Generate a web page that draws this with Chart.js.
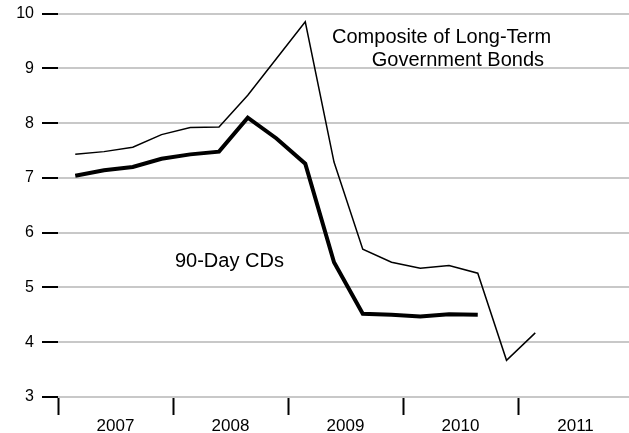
<!DOCTYPE html>
<html>
<head>
<meta charset="utf-8">
<script src="https://cdn.jsdelivr.net/npm/chart.js@4/dist/chart.umd.min.js"></script>
<style>
    body { margin: 0; background: #fff; }
    canvas { display: block; }
</style>
</head>
<body>
<canvas id="rates" width="629" height="433"></canvas>
<script>
// quarterly observations, x in fractional years
const quarterX = [2007.15, 2007.4, 2007.65, 2007.9, 2008.15, 2008.4, 2008.65, 2008.9,
    2009.15, 2009.4, 2009.65, 2009.9, 2010.15, 2010.4, 2010.65, 2010.9, 2011.15];
const bondRates = [7.43, 7.48, 7.56, 7.79, 7.92, 7.93, 8.51, 9.18,
    9.85, 7.29, 5.70, 5.46, 5.35, 5.40, 5.26, 3.67, 4.17];
const cdRates = [7.04, 7.14, 7.20, 7.35, 7.43, 7.48, 8.10, 7.72,
    7.26, 5.46, 4.52, 4.50, 4.47, 4.51, 4.50];
const yearTicks = [2007, 2008, 2009, 2010, 2011];
const yearLabels = ["2007", "2008", "2009", "2010", "2011"];
const yTicks = [3, 4, 5, 6, 7, 8, 9, 10];

// text labels placed in data coordinates
const notes = [
    { text: "Composite of Long-Term", x: 2009.383, y: 9.46 },
    { text: "Government Bonds", x: 2009.728, y: 9.05 },
    { text: "90-Day CDs", x: 2008.017, y: 5.37 }
];

const FONT = "'Liberation Sans', Arial, Helvetica, sans-serif";

function toPoints(values) {
    return values.map((v, i) => ({ x: quarterX[i], y: v }));
}

const notePlugin = {
    id: "notes",
    afterDatasetsDraw(chart) {
        const ctx = chart.ctx;
        const xs = chart.scales.x, ys = chart.scales.y;
        ctx.save();
        ctx.font = "20px " + FONT;
        ctx.fillStyle = "#000";
        ctx.textAlign = "left";
        ctx.textBaseline = "alphabetic";
        notes.forEach(n => {
            ctx.fillText(n.text, xs.getPixelForValue(n.x), ys.getPixelForValue(n.y));
        });
        ctx.restore();
    }
};

new Chart(document.getElementById("rates"), {
    type: "line",
    data: {
        datasets: [
            {
                label: "Composite of Long-Term Government Bonds",
                data: toPoints(bondRates),
                borderColor: "#000",
                borderWidth: 1.5,
                pointRadius: 0,
                tension: 0
            },
            {
                label: "90-Day CDs",
                data: toPoints(cdRates),
                borderColor: "#000",
                borderWidth: 4,
                pointRadius: 0,
                tension: 0
            }
        ]
    },
    options: {
        responsive: false,
        animation: false,
        layout: { padding: { top: 13.6, right: 0, left: 0, bottom: 0 } },
        plugins: { legend: { display: false }, tooltip: { enabled: false } },
        scales: {
            x: {
                type: "linear",
                min: 2007,
                max: 2011.965,
                afterBuildTicks(scale) {
                    const t = [];
                    yearTicks.forEach(y => { t.push({ value: y }); t.push({ value: y + 0.5 }); });
                    scale.ticks = t;
                },
                afterFit(scale) { scale.height = 36; scale.paddingLeft = 0; scale.paddingRight = 0; },
                border: { display: false },
                grid: {
                    drawOnChartArea: false,
                    tickLength: 18,
                    tickWidth: 2,
                    tickColor: ctx => (ctx.tick && Number.isInteger(ctx.tick.value)) ? "#000" : "rgba(0,0,0,0)"
                },
                ticks: {
                    autoSkip: false,
                    maxRotation: 0,
                    padding: 1,
                    color: "#000",
                    font: { family: FONT, size: 17 },
                    callback: v => {
                        const i = yearTicks.indexOf(v - 0.5);
                        return i >= 0 ? yearLabels[i] : "";
                    }
                }
            },
            y: {
                min: 3,
                max: 10,
                afterBuildTicks(scale) { scale.ticks = yTicks.map(v => ({ value: v })); },
                afterFit(scale) { scale.width = 58; scale.paddingTop = 0; scale.paddingBottom = 0; },
                border: { display: false },
                grid: {
                    color: "#c8c8c8",
                    lineWidth: 2,
                    tickLength: 16,
                    tickWidth: 2,
                    tickColor: "#000"
                },
                ticks: {
                    padding: 8,
                    color: "#000",
                    font: { family: FONT, size: 16 }
                }
            }
        }
    },
    plugins: [notePlugin]
});
</script>
</body>
</html>
